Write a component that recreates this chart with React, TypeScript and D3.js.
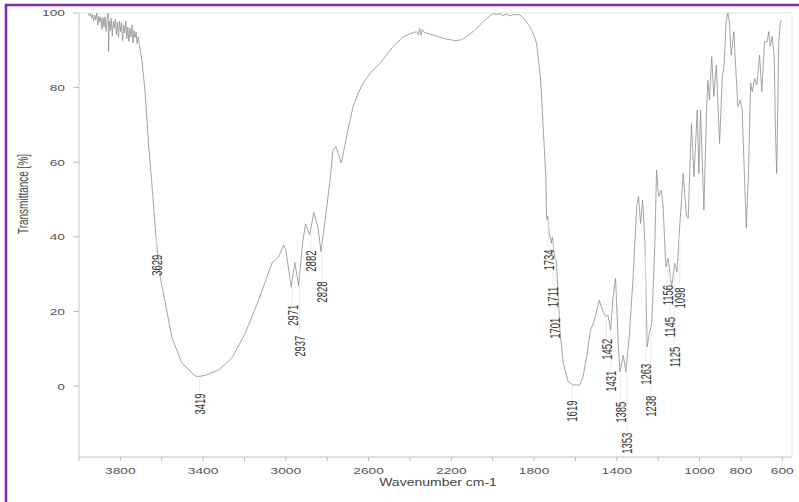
import React, { useEffect, useRef } from 'react';
import * as d3 from 'd3';

// spectrum (wavenumber cm-1 / transmittance %)
const wavenumbers = [
  3954, 3949, 3944, 3939, 3934, 3929, 3924, 3919, 3914, 3909, 3904, 3899, 3894, 3889, 3884, 3879,
  3874, 3869, 3864, 3859, 3857, 3854, 3849, 3844, 3839, 3834, 3829, 3824, 3819, 3814, 3809, 3804,
  3799, 3794, 3789, 3784, 3779, 3774, 3769, 3764, 3759, 3754, 3749, 3744, 3739, 3734, 3729, 3724,
  3719, 3714, 3708, 3696, 3680, 3664, 3648, 3628, 3607, 3583, 3551, 3503, 3438, 3419, 3390, 3325,
  3261, 3196, 3132, 3067, 3035, 3011, 3000, 2974, 2957, 2938, 2919, 2905, 2885, 2865, 2845, 2830,
  2812, 2788, 2772, 2759, 2745, 2732, 2720, 2707, 2675, 2650, 2627, 2590, 2546, 2510, 2482, 2433,
  2400, 2369, 2360, 2353, 2347, 2340, 2330, 2288, 2224, 2180, 2151, 2120, 2095, 2046, 1998, 1980,
  1965, 1950, 1933, 1915, 1900, 1869, 1850, 1820, 1800, 1788, 1769, 1756, 1743, 1740, 1737, 1733,
  1727, 1720, 1716, 1712, 1708, 1704, 1691, 1675, 1659, 1635, 1611, 1579, 1563, 1546, 1527, 1511,
  1485, 1466, 1453, 1442, 1430, 1418, 1406, 1393, 1385, 1369, 1356, 1340, 1321, 1304, 1295, 1285,
  1275, 1264, 1253, 1243, 1231, 1216, 1208, 1198, 1185, 1176, 1163, 1152, 1135, 1120, 1109, 1095,
  1079, 1063, 1055, 1039, 1027, 1011, 1003, 995, 979, 966, 960, 952, 941, 931, 919, 903,
  890, 882, 871, 863, 855, 847, 834, 815, 803, 794, 774, 763, 753, 745, 734, 723,
  710, 699, 686, 673, 665, 658, 649, 639, 633, 627, 622, 617, 610, 604,
];
const transmittance = [
  100, 99.2, 99.8, 98.6, 99.6, 97.8, 99.4, 98.2, 100, 96.8, 99.1, 97.5, 98.9, 95.6, 98.7, 96.2,
  99.0, 95.1, 98.4, 100, 89.6, 97.9, 95.3, 98.6, 93.8, 97.7, 95.9, 98.3, 94.2, 97.6, 93.5, 97.9,
  95.0, 97.4, 92.6, 96.8, 94.7, 97.9, 93.1, 96.2, 92.4, 95.9, 93.6, 96.8, 92.0, 95.3, 93.4, 94.9,
  91.8, 93.6, 91.5, 87.4, 78.5, 65, 54.4, 40, 29.2, 22.3, 13.1, 6.2, 2.7, 2.6, 2.9, 4.3,
  7.5, 14.2, 23, 33, 34.6, 37.8, 36.5, 26.5, 33.2, 27, 38.3, 43.5, 40.5, 46.5, 42.6, 36,
  43.7, 54.4, 63.3, 64.2, 62, 59.8, 63, 66.8, 74.9, 78.5, 81.2, 84, 86.5, 89, 91, 93.6,
  94.4, 95, 94.2, 95.9, 94.0, 95.6, 94.8, 94.1, 93, 92.6, 92.8, 94, 95, 97.7, 99.9, 99.6,
  99.9, 99.3, 99.7, 99.2, 99.6, 99.5, 98.5, 96.3, 94, 91.9, 82.9, 69.5, 56.1, 46, 44.5, 45.5,
  41, 39.5, 38.3, 40, 38.5, 36, 32.9, 15, 6.1, 1.2, 0.3, 0.3, 2.5, 7.9, 15, 17.2,
  23, 19.9, 18.6, 19, 15, 23.9, 28.9, 11.4, 3.8, 8.3, 3.8, 13.2, 29.3, 48.1, 50.8, 43.6,
  49.9, 38.3, 10.5, 14.1, 16.8, 38.3, 57.9, 50.8, 52.5, 48.1, 32, 34.2, 26.6, 32.9, 30.6, 43.6,
  57, 45.4, 45, 70.4, 56.1, 74, 57, 74, 47.2, 74, 82, 76.7, 88.3, 77.6, 86, 65,
  82.9, 85.6, 98.1, 100, 97.3, 88.7, 95, 74.9, 76.7, 74, 42.3, 57.9, 81.2, 78.9, 82.5, 80.7,
  88.7, 78.9, 92.3, 92.3, 95, 91, 93.7, 88.3, 68.6, 57, 74, 91.9, 97.2, 98.1,
];

// peak annotations: wavenumber and the transmittance level where the label sits
const peakWavenumbers = [3629, 3419, 2971, 2937, 2882, 2828, 1734, 1711, 1701, 1619, 1452, 1431, 1385, 1353, 1263, 1238, 1156, 1098, 1145, 1125];
const peakLabelLevels = [32.4, -4.8, 19.0, 10.7, 33.5, 25.2, 33.8, 23.9, 15.5, -6.7, 9.9, 1.3, -7.0, -15.3, 3.2, -5.4, 24.4, 23.6, 15.8, 7.8];

const xTickLabels = [3800, 3400, 3000, 2600, 2200, 1800, 1400, 1000, 800, 600];
const xTickMarks = [4000, 3800, 3600, 3400, 3200, 3000, 2800, 2600, 2400, 2200, 2000, 1800, 1600, 1400, 1200, 1000, 800, 600];
const yTickValues = [0, 20, 40, 60, 80, 100];

const FONT = "'Liberation Sans', Arial, sans-serif";
const SX = 1.45; // the picture is stretched sideways

const App = () => {
  const svgRef = useRef(null);

  useEffect(() => {
    const svg = d3.select(svgRef.current);
    svg.selectAll('*').remove();

    const left = 79, right = 792, top = 13, bottom = 457;
    const x = d3.scaleLinear().domain([4000, 553]).range([left, right]);
    const y = d3.scaleLinear().domain([-19, 100]).range([bottom, top]);

    // purple frame
    svg.append('line').attr('x1', 6).attr('x2', 6).attr('y1', 4).attr('y2', 502)
      .attr('stroke', '#7a2fb2').attr('stroke-width', 2.6);
    svg.append('line').attr('x1', 5).attr('x2', 799).attr('y1', 5).attr('y2', 5)
      .attr('stroke', '#7a2fb2').attr('stroke-width', 2.6);

    // plot box
    const axisColor = '#d2d2d2';
    svg.append('path')
      .attr('d', `M${left},${top}H${right}V${bottom}H${left}Z`)
      .attr('fill', 'none').attr('stroke', '#e6e6e6');
    svg.append('line').attr('x1', left).attr('x2', left).attr('y1', top).attr('y2', bottom).attr('stroke', axisColor);
    svg.append('line').attr('x1', left).attr('x2', right).attr('y1', bottom).attr('y2', bottom).attr('stroke', axisColor);

    // x ticks
    svg.append('g').selectAll('line').data(xTickMarks).enter().append('line')
      .attr('x1', d => x(d)).attr('x2', d => x(d)).attr('y1', bottom).attr('y2', bottom + 4)
      .attr('stroke', '#bbb');
    svg.append('g').selectAll('text').data(xTickLabels).enter().append('text')
      .attr('transform', d => `translate(${x(d)},474) scale(${SX},1)`)
      .attr('text-anchor', 'middle')
      .style('font-family', FONT).style('font-size', '9.5px').style('fill', '#555')
      .text(d => d);

    // y ticks
    svg.append('g').selectAll('line').data(yTickValues).enter().append('line')
      .attr('x1', left - 6).attr('x2', left).attr('y1', d => y(d)).attr('y2', d => y(d))
      .attr('stroke', '#bbb');
    svg.append('g').selectAll('text').data(yTickValues).enter().append('text')
      .attr('transform', d => `translate(65,${y(d) + 3.4}) scale(${SX},1)`)
      .attr('text-anchor', 'end')
      .style('font-family', FONT).style('font-size', '9.5px').style('fill', '#555')
      .text(d => d);

    // axis titles
    svg.append('text')
      .attr('transform', `translate(438,486) scale(1.4,1)`)
      .attr('text-anchor', 'middle')
      .style('font-family', FONT).style('font-size', '10px').style('fill', '#444')
      .text('Wavenumber cm-1');
    svg.append('text')
      .attr('transform', `translate(28,194) scale(${SX},1) rotate(-90)`)
      .attr('text-anchor', 'middle')
      .style('font-family', FONT).style('font-size', '10px').style('fill', '#444')
      .text('Transmittance [%]');

    // spectrum
    const pts = wavenumbers.map((w, i) => [w, transmittance[i]]);
    const line = d3.line().x(d => x(d[0])).y(d => y(d[1]));
    svg.append('defs').append('clipPath').attr('id', 'plotclip')
      .append('rect').attr('x', left).attr('y', top - 1).attr('width', right - left).attr('height', bottom - top + 1);
    svg.append('path')
      .datum(pts)
      .attr('clip-path', 'url(#plotclip)')
      .attr('d', line)
      .attr('fill', 'none')
      .attr('stroke', '#8e8e8e')
      .attr('stroke-width', 0.8)
      .attr('stroke-linejoin', 'round');

    // curve level at a wavenumber, for leader lines
    const asc = pts.slice().sort((a, b) => a[0] - b[0]);
    const curveAt = w => {
      const i = d3.bisector(d => d[0]).left(asc, w);
      if (i <= 0) return asc[0][1];
      if (i >= asc.length) return asc[asc.length - 1][1];
      const a = asc[i - 1], b = asc[i];
      return a[1] + (b[1] - a[1]) * (w - a[0]) / (b[0] - a[0]);
    };

    const halfLen = 10.5;
    const leaders = svg.append('g');
    peakWavenumbers.forEach((w, i) => {
      const cy = y(curveAt(w));
      const ly = y(peakLabelLevels[i]);
      const y1 = cy + 2, y2 = ly - halfLen - 2;
      if (y2 - y1 > 4) {
        leaders.append('line').attr('x1', x(w) + 0.5).attr('x2', x(w) + 0.5).attr('y1', y1).attr('y2', y2)
          .attr('stroke', '#e6e6e6').attr('stroke-width', 0.8);
      }
    });

    svg.append('g').selectAll('text').data(peakWavenumbers).enter().append('text')
      .attr('transform', (d, i) => `translate(${x(d) + 1},${y(peakLabelLevels[i])}) scale(${SX},1) rotate(-90)`)
      .attr('text-anchor', 'middle')
      .attr('dy', '0.35em')
      .style('font-family', FONT).style('font-size', '9.5px').style('fill', '#333')
      .text(d => d);
  }, []);

  return (
    <div>
      <svg ref={svgRef} width={799} height={502}
        style={{ position: 'absolute', left: 0, top: 0, background: '#fff' }} />
    </div>
  );
};

export default App;
